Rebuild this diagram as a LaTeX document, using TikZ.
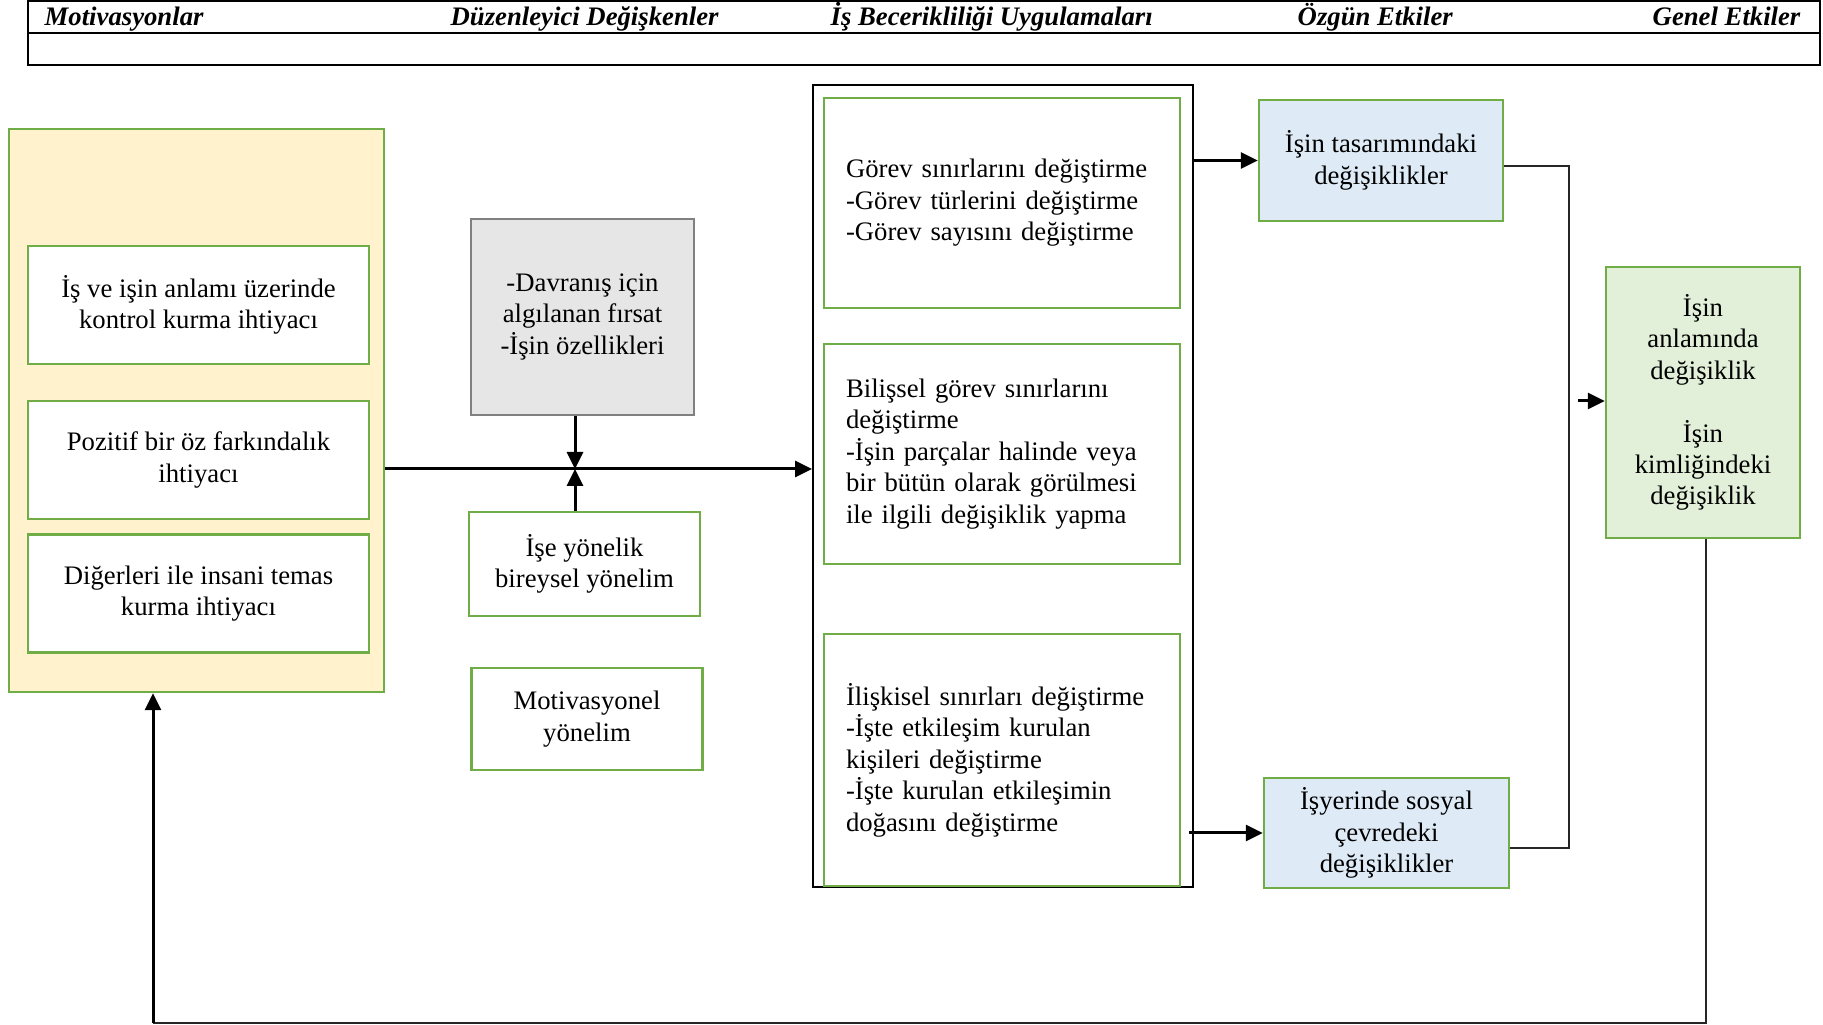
\documentclass[tikz,border=0pt]{standalone}
\usepackage{fontspec}
\setmainfont{Liberation Serif}
\usetikzlibrary{positioning, arrows.meta}
\definecolor{boxgreen}{HTML}{70AD47}
\definecolor{softyellow}{HTML}{FFF2CC}
\definecolor{softblue}{HTML}{DEEBF7}
\definecolor{softgreen}{HTML}{E2F0D9}
\definecolor{softgray}{HTML}{E6E6E6}
\newcommand{\bodyfont}{\fontsize{7.6}{8.95}\selectfont}
\tikzset{
	need/.style={draw=boxgreen, line width=0.25mm, fill=white, align=center, font=\bodyfont, minimum width=34.1mm, minimum height=11.8mm, inner sep=0pt},
	practice/.style={draw=boxgreen, line width=0.25mm, fill=white, align=left, font=\bodyfont, text width=31.2mm, inner xsep=2.2mm, inner ysep=0pt},
	effect/.style={draw=boxgreen, line width=0.25mm, fill=softblue, align=center, font=\bodyfont, inner sep=0pt},
	arrow/.style={-{Triangle[length=1.7mm,width=1.6mm]}, line width=0.3mm},
	thinline/.style={line width=0.13mm, black!85}
}

\begin{document}
\begin{tikzpicture}[
		x=0.1mm, y=-0.1mm,
		head/.style={font=\bodyfont\bfseries\itshape, anchor=base west, inner sep=0pt},
		moderator/.style={draw=boxgreen, line width=0.25mm, fill=white, align=center, font=\bodyfont, minimum width=23.1mm, minimum height=10.4mm, inner sep=0pt}
		]
		\useasboundingbox (0,0) rectangle (1823,1025);
		
		% header
		\draw[line width=0.2mm] (28,1.5) rectangle (1820,65);
		\draw[line width=0.2mm] (28,33) -- (1820,33);
		\node[head] (hMot) at (44,26) {Motivasyonlar};
		\node[head] (hMod) at (450,26) {Düzenleyici Değişkenler};
		\node[head] (hPrac) at (830,26) {İş Becerikliliği Uygulamaları};
		\node[head] (hSpec) at (1297,26) {Özgün Etkiler};
		\node[head] (hGen) at (1652,26) {Genel Etkiler};
		
		% motivations
		\node[draw=boxgreen, line width=0.25mm, fill=softyellow, minimum width=37.5mm, minimum height=56.3mm] (motives) at (196.5,410.5) {};
		\node[need] (control) at (198.5,305) {İş ve işin anlamı üzerinde\\kontrol kurma ihtiyacı};
		\node[need, below=3.45mm of control] (selfimage) {Pozitif bir öz farkındalık\\ihtiyacı};
		\node[need, below=1.3mm of selfimage] (contact) {Diğerleri ile insani temas\\kurma ihtiyacı};
		
		% moderators
		\node[draw=gray, line width=0.25mm, fill=softgray, align=center, font=\bodyfont, minimum width=22.3mm, minimum height=19.6mm, inner sep=0pt] (chance) at (582.5,317) {-Davranış için\\algılanan fırsat\\-İşin özellikleri};
		\node[moderator] (orient) at (584.5,564) {İşe yönelik\\bireysel yönelim};
		\node[moderator, minimum height=10.2mm] (motorient) at (587,719) {Motivasyonel\\yönelim};
		
		% job crafting practices
		\node[draw, line width=0.2mm, minimum width=38mm, minimum height=80.2mm] (crafting) at (1003,486) {};
		\node[practice, minimum height=21mm] (task) at (1002,203) {Görev sınırlarını değiştirme\\-Görev türlerini değiştirme\\-Görev sayısını değiştirme};
		\node[practice, minimum height=22mm, below=3.35mm of task] (cognitive) {Bilişsel görev sınırlarını\\değiştirme\\-İşin parçalar halinde veya\\bir bütün olarak görülmesi\\ile ilgili değişiklik yapma};
		\node[practice, minimum height=25.2mm, below=6.75mm of cognitive] (relational) {İlişkisel sınırları değiştirme\\-İşte etkileşim kurulan\\kişileri değiştirme\\-İşte kurulan etkileşimin\\doğasını değiştirme};
		
		% effects
		\node[effect, minimum width=24.4mm, minimum height=12.1mm] (design) at (1381,160.5) {İşin tasarımındaki\\değişiklikler};
		\node[effect, minimum width=24.5mm, minimum height=11mm] (social) at (1386.5,833) {İşyerinde sosyal\\çevredeki\\değişiklikler};
		\node[effect, fill=softgreen, minimum width=19.4mm, minimum height=27.1mm] (meaning) at (1703,402.5) {İşin\\anlamında\\değişiklik\\[8.95pt]İşin\\kimliğindeki\\değişiklik};
		
		\coordinate (junc) at (575,469);
		\coordinate (busTop) at (1569,166);
		\coordinate (busBot) at (1569,848);
		\coordinate (toMeaning) at (1578,401);
		\coordinate (loopR) at (1706,1023);
		\coordinate (loopL) at (153,1023);
		
		\draw[arrow] (motives.east |- junc) -- (crafting.west |- junc);
		\draw[arrow] (chance.south -| junc) -- (junc);
		\draw[arrow] (orient.north -| junc) -- (junc);
		
		\draw[arrow] (crafting.east |- design.west) -- (design.west);
		\draw[arrow] ([xshift=-0.5mm]crafting.east |- social.west) -- (social.west);
		
		\draw[thinline] (design.east |- busTop) -- (busTop) -- (busBot) -- (social.east |- busBot);
		\draw[arrow] (toMeaning) -- (meaning.west |- toMeaning);
		
		\draw[thinline] (meaning.south -| loopR) -- (loopR) -- (loopL);
		\draw[arrow] (loopL) -- (motives.south -| loopL);
		
	\end{tikzpicture}
\end{document}
